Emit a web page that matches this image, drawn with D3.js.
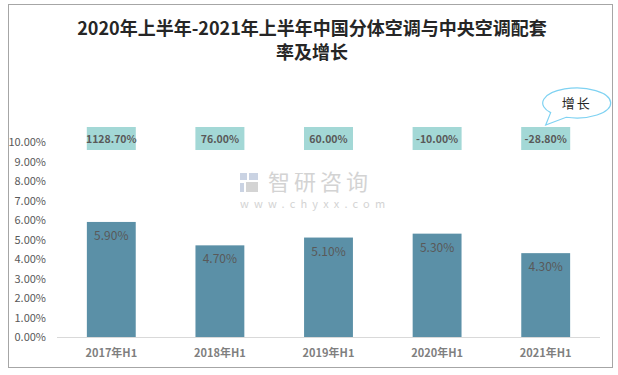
<!DOCTYPE html>
<html>
<head>
<meta charset="utf-8">
<script src="https://cdn.jsdelivr.net/npm/d3@7"></script>
<style>
  body { margin: 0; background: #fff; }
  text { font-family: "Noto Sans CJK SC", "Noto Sans", sans-serif; }
</style>
</head>
<body>
<script>
var width = 618
var height = 375

// data
var categories = ['2017年H1', '2018年H1', '2019年H1', '2020年H1', '2021年H1']
var rates = [5.9, 4.7, 5.1, 5.3, 4.3]
var growth = ['1128.70%', '76.00%', '60.00%', '-10.00%', '-28.80%']
var yTicks = [0, 1, 2, 3, 4, 5, 6, 7, 8, 9, 10]

var svg = d3.select('body')
  .append('svg')
  .attr('width', width)
  .attr('height', height)

// outer frame
svg.append('rect')
  .attr('x', 8.5).attr('y', 4.5)
  .attr('width', 604).attr('height', 363)
  .attr('fill', '#fff')
  .attr('stroke', '#a6a6a6')
  .attr('stroke-width', 1)

// title
svg.append('text')
  .attr('x', 312).attr('y', 35)
  .attr('text-anchor', 'middle')
  .attr('font-size', 18)
  .attr('font-weight', 'bold')
  .attr('fill', '#262626')
  .text('2020年上半年-2021年上半年中国分体空调与中央空调配套')
svg.append('text')
  .attr('x', 312).attr('y', 59)
  .attr('text-anchor', 'middle')
  .attr('font-size', 18)
  .attr('font-weight', 'bold')
  .attr('fill', '#262626')
  .text('率及增长')

var x = d3.scaleBand()
  .domain(categories)
  .range([57, 600])
  .paddingInner(0.55)
  .paddingOuter(0.275)

var y = d3.scaleLinear()
  .domain([0, 10])
  .range([337, 142])

// watermark
var wm = svg.append('g').attr('opacity', 0.9)
wm.append('rect').attr('x', 240).attr('y', 173).attr('width', 7).attr('height', 7).attr('fill', '#c5cfe0')
wm.append('rect').attr('x', 249).attr('y', 173).attr('width', 9).attr('height', 7).attr('fill', '#c5cfe0')
wm.append('rect').attr('x', 240).attr('y', 183).attr('width', 4).attr('height', 9).attr('fill', '#c5cfe0')
wm.append('rect').attr('x', 246).attr('y', 182).attr('width', 12).attr('height', 10).attr('fill', '#d0d0d0')
wm.append('text')
  .attr('x', 268).attr('y', 190)
  .attr('font-size', 22)
  .attr('letter-spacing', 4)
  .attr('fill', '#cfcfcf')
  .text('智研咨询')
wm.append('text')
  .attr('x', 240).attr('y', 208)
  .attr('font-size', 11)
  .attr('letter-spacing', 5.2)
  .attr('fill', '#cfcfcf')
  .text('www.chyxx.com')

// y axis labels
svg.append('g')
  .selectAll('text')
  .data(yTicks)
  .enter()
  .append('text')
  .attr('x', 46)
  .attr('y', function(d){ return y(d) + 4 })
  .attr('text-anchor', 'end')
  .attr('font-size', 11)
  .attr('font-family', 'Calibri, Carlito, "Liberation Sans", sans-serif')
  .attr('fill', '#595959')
  .text(function(d){ return d.toFixed(2) + '%' })

// bars
svg.append('g')
  .selectAll('rect')
  .data(rates)
  .enter()
  .append('rect')
  .attr('x', function(d, i){ return x(categories[i]) })
  .attr('y', function(d){ return y(d) })
  .attr('width', x.bandwidth())
  .attr('height', function(d){ return y(0) - y(d) })
  .attr('fill', '#5b90a7')

// bar labels
svg.append('g')
  .selectAll('text')
  .data(rates)
  .enter()
  .append('text')
  .attr('x', function(d, i){ return x(categories[i]) + x.bandwidth() / 2 })
  .attr('y', function(d){ return y(d) + 18 })
  .attr('text-anchor', 'middle')
  .attr('font-size', 12)
  .attr('fill', '#595959')
  .text(function(d){ return d.toFixed(2) + '%' })

// baseline
svg.append('line')
  .attr('x1', 57).attr('x2', 600)
  .attr('y1', y(0) + 0.5).attr('y2', y(0) + 0.5)
  .attr('stroke', '#d9d9d9')

// x labels
svg.append('g')
  .selectAll('text')
  .data(categories)
  .enter()
  .append('text')
  .attr('x', function(d){ return x(d) + x.bandwidth() / 2 })
  .attr('y', 357)
  .attr('text-anchor', 'middle')
  .attr('font-size', 11)
  .attr('font-weight', 'bold')
  .attr('fill', '#7f7f7f')
  .text(function(d){ return d })

// growth boxes
var gb = svg.append('g')
  .selectAll('g')
  .data(growth)
  .enter()
  .append('g')
  .attr('transform', function(d, i){ return 'translate(' + (x(categories[i]) + x.bandwidth() / 2) + ',' + (y(10) - 15) + ')' })
gb.append('rect')
  .attr('x', -24.5).attr('y', 0)
  .attr('width', 49).attr('height', 23)
  .attr('fill', '#a3d8d6')
gb.append('text')
  .attr('x', 0).attr('y', 15.5)
  .attr('text-anchor', 'middle')
  .attr('font-size', 10.5)
  .attr('font-weight', 'bold')
  .attr('fill', '#595959')
  .text(function(d){ return d })

// callout bubble above last growth box
var tipX = x(categories[4]) + x.bandwidth() / 2
var tipY = y(10) - 17
var ecx = tipX + 31, ecy = tipY - 22, rx = 34, ry = 15
function ep(deg) {
  var a = deg * Math.PI / 180
  return [ecx + rx * Math.cos(a), ecy + ry * Math.sin(a)]
}
var p1 = ep(108), p2 = ep(140)
svg.append('path')
  .attr('d', 'M' + p1[0] + ',' + p1[1] +
    ' A' + rx + ',' + ry + ' 0 1,0 ' + p2[0] + ',' + p2[1] +
    ' L' + tipX + ',' + tipY + ' Z')
  .attr('fill', '#fff')
  .attr('stroke', '#7fd2f2')
  .attr('stroke-width', 1.2)
svg.append('text')
  .attr('x', ecx).attr('y', ecy + 5)
  .attr('text-anchor', 'middle')
  .attr('font-size', 13)
  .attr('letter-spacing', 2)
  .attr('fill', '#262626')
  .text('增长')
</script>
</body>
</html>
